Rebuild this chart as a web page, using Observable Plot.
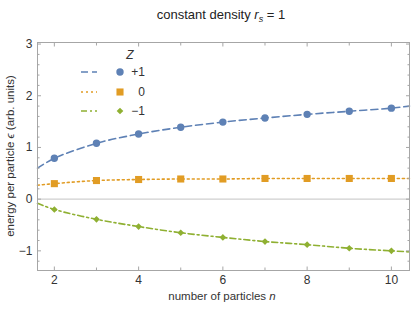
<!DOCTYPE html>
<html>
<head>
<meta charset="utf-8">
<script src="https://cdn.jsdelivr.net/npm/d3@7"></script>
<script src="https://cdn.jsdelivr.net/npm/@observablehq/plot@0.6"></script>
<style>
  html, body { margin: 0; padding: 0; background: #fff; }
  #wrap { position: relative; width: 415px; height: 309px; font-family: "Liberation Sans", Arial, sans-serif; }
  #wrap svg { position: absolute; left: 0; top: 0; }
</style>
</head>
<body>
<div id="wrap"></div>
<script>
// ---- data ----
const particles = [2, 3, 4, 5, 6, 7, 8, 9, 10];
const energyPlus  = [0.79, 1.08, 1.26, 1.39, 1.49, 1.57, 1.64, 1.70, 1.76];
const energyZero  = [0.30, 0.36, 0.38, 0.39, 0.39, 0.40, 0.40, 0.40, 0.40];
const energyMinus = [-0.20, -0.39, -0.53, -0.65, -0.74, -0.82, -0.88, -0.95, -1.00];
// curve end values at the frame edges
const edgeN = [1.6, 10.43];
const edgePlus = [0.60, 1.80];
const edgeZero = [0.27, 0.40];
const edgeMinus = [-0.08, -1.02];
const seriesNames = ["+1", "0", "\u22121"];
const seriesColors = ["#5E81B5", "#E19C24", "#8FB032"];
const seriesSymbols = ["circle", "square", "diamond2"];
const seriesDash = ["7,4", "2,3", "6,3,2,3"];
const xMajor = [2, 4, 6, 8, 10];
const xMinor = [3, 5, 7, 9];
const yMajor = [-1, 0, 1, 2, 3];
const yMinor = d3.range(-1.2, 3.01, 0.2).map(v => +v.toFixed(1)).filter(v => !yMajor.includes(v));

const allSeries = [energyPlus, energyZero, energyMinus];
const edges = [edgePlus, edgeZero, edgeMinus];
const symbolR = [3.7, 4.0, 3.0];

const points = [];
const curves = [];
allSeries.forEach((vals, s) => {
  particles.forEach((n, i) => points.push({n, e: vals[i], s: seriesNames[s]}));
  const c = [{n: edgeN[0], e: edges[s][0]}]
    .concat(particles.map((n, i) => ({n, e: vals[i]})))
    .concat([{n: edgeN[1], e: edges[s][1]}]);
  curves.push(c);
});

const frameColor = "#a6a6a6";
const textColor = "#333";

const marks = [
  Plot.ruleY([0], {stroke: "#cfcfcf", strokeWidth: 1.2}),
];
curves.forEach((c, s) => {
  marks.push(Plot.line(c, {x: "n", y: "e", curve: "catmull-rom", stroke: seriesColors[s], strokeWidth: 1.6, strokeDasharray: seriesDash[s]}));
});
seriesNames.forEach((name, s) => {
  marks.push(Plot.dot(points.filter(d => d.s === name), {x: "n", y: "e", symbol: () => seriesSymbols[s], r: symbolR[s], fill: seriesColors[s], stroke: "none"}));
});
marks.push(
  Plot.frame({stroke: frameColor}),
  // bottom
  Plot.axisX(xMajor, {anchor: "bottom", tickSize: -3.5, fill: "none", stroke: frameColor, label: null}),
  Plot.axisX(xMinor, {anchor: "bottom", tickSize: -2.5, fill: "none", stroke: frameColor, label: null}),
  Plot.axisX(xMajor, {anchor: "bottom", tickSize: 0, tickPadding: 5, fill: textColor, fontSize: 12, label: null}),
  // top
  Plot.axisX(xMajor, {anchor: "top", tickSize: -3.5, fill: "none", stroke: frameColor, label: null}),
  Plot.axisX(xMinor, {anchor: "top", tickSize: -2.5, fill: "none", stroke: frameColor, label: null}),
  // left
  Plot.axisY(yMajor, {anchor: "left", tickSize: -4, fill: "none", stroke: frameColor, label: null}),
  Plot.axisY(yMinor, {anchor: "left", tickSize: -2.5, fill: "none", stroke: frameColor, label: null}),
  Plot.axisY(yMajor, {anchor: "left", tickSize: 0, tickPadding: 5, fill: textColor, fontSize: 12, label: null, tickFormat: d => d < 0 ? "\u2212" + Math.abs(d) : String(d)}),
  // right
  Plot.axisY(yMajor, {anchor: "right", tickSize: -4, fill: "none", stroke: frameColor, label: null}),
  Plot.axisY(yMinor, {anchor: "right", tickSize: -2.5, fill: "none", stroke: frameColor, label: null})
);

const chart = Plot.plot({
  width: 415,
  height: 309,
  marginLeft: 37,
  marginRight: 6,
  marginTop: 42,
  marginBottom: 39,
  style: {fontFamily: '"Liberation Sans", Arial, sans-serif', fontSize: "11px", background: "#fff"},
  x: {domain: [1.6, 10.43]},
  y: {domain: [-1.38, 3.03]},
  marks
});
document.getElementById("wrap").appendChild(chart);

const svg = d3.select(chart);
const font = '"Liberation Sans", Arial, sans-serif';

// title
const title = svg.append("text")
  .attr("x", 221).attr("y", 19)
  .attr("text-anchor", "middle")
  .attr("font-family", font).attr("font-size", 13).attr("fill", "#222");
title.append("tspan").text("constant density ");
title.append("tspan").attr("font-style", "italic").text("r");
title.append("tspan").attr("font-style", "italic").attr("font-size", 9).attr("dy", 3).text("s");
title.append("tspan").attr("dy", -3).text(" = 1");

// x label
const xl = svg.append("text")
  .attr("x", 222).attr("y", 300)
  .attr("text-anchor", "middle")
  .attr("font-family", font).attr("font-size", 11.5).attr("fill", textColor);
xl.append("tspan").text("number of particles ");
xl.append("tspan").attr("font-style", "italic").text("n");

// y label
const yl = svg.append("text")
  .attr("transform", "translate(14,156) rotate(-90)")
  .attr("text-anchor", "middle")
  .attr("font-family", font).attr("font-size", 11.5).attr("fill", textColor);
yl.append("tspan").text("energy per particle ");
yl.append("tspan").attr("font-style", "italic").text("\u03f5");
yl.append("tspan").text(" (arb. units)");

// legend
const lg = svg.append("g").attr("font-family", font).attr("font-size", 12).attr("fill", textColor);
lg.append("text").attr("x", 130).attr("y", 59).attr("text-anchor", "middle").attr("font-style", "italic").text("Z");
const rowsY = [72, 92, 111];
const symbolTypes = {circle: d3.symbolCircle, square: d3.symbolSquare, diamond2: d3.symbolDiamond2};
seriesNames.forEach((name, s) => {
  const y = rowsY[s];
  lg.append("line").attr("x1", 81).attr("x2", 97).attr("y1", y).attr("y2", y)
    .attr("stroke", seriesColors[s]).attr("stroke-width", 1.6).attr("stroke-dasharray", seriesDash[s]);
  const r = symbolR[s];
  lg.append("path").attr("transform", `translate(120,${y})`)
    .attr("d", d3.symbol(symbolTypes[seriesSymbols[s]], Math.PI * r * r)())
    .attr("fill", seriesColors[s]);
  lg.append("text").attr("x", 145).attr("y", y + 4).attr("text-anchor", "end").text(name);
});
</script>
</body>
</html>
